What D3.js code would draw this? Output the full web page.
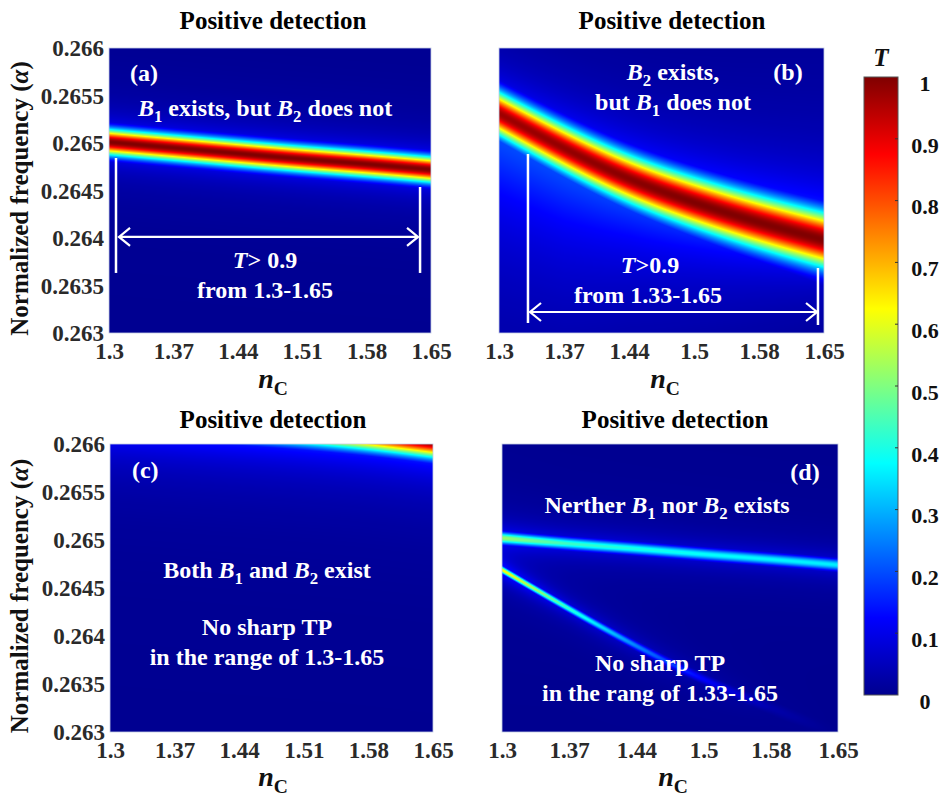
<!DOCTYPE html>
<html>
<head>
<meta charset="utf-8">
<title></title>
<script src="https://cdn.jsdelivr.net/npm/d3@7"></script>
<style>
body{margin:0;background:#fff;}
svg{display:block;font-family:"Liberation Serif","Times New Roman",serif;font-weight:bold;}
</style>
<script>
// axis ticks
var nTicks = [1.3, 1.37, 1.44, 1.51, 1.58, 1.65];
var nLabelsAC = ['1.3', '1.37', '1.44', '1.51', '1.58', '1.65'];
var nLabelsBD = ['1.3', '1.37', '1.44', '1.5', '1.58', '1.65'];
var fTicks = [0.263, 0.2635, 0.264, 0.2645, 0.265, 0.2655, 0.266];
var fLabels = ['0.263', '0.2635', '0.264', '0.2645', '0.265', '0.2655', '0.266'];
var tTicks = [0, 0.1, 0.2, 0.3, 0.4, 0.5, 0.6, 0.7, 0.8, 0.9, 1];
var tLabels = ['0', '0.1', '0.2', '0.3', '0.4', '0.5', '0.6', '0.7', '0.8', '0.9', '1'];

// transmission ridges, read at nTicks: centre frequency, peak T, width,
// halo spread above / below the ridge (frequency units)
var aCenter = [0.26501, 0.26495, 0.26489, 0.26483, 0.26478, 0.26472];
var aPeak   = [1, 1, 1, 1, 1, 1];
var aWidth  = [0.000135, 0.000135, 0.000135, 0.000135, 0.000135, 0.000135];
var aUp     = [0.00017, 0.00017, 0.00017, 0.00017, 0.00017, 0.00017];
var aDown   = [0.00017, 0.00017, 0.00017, 0.00017, 0.00017, 0.00017];

var bCenter = [0.26531, 0.26494, 0.26461, 0.26437, 0.26416, 0.26398];
var bPeak   = [0.97, 0.98, 0.99, 1, 1, 1];
var bWidth  = [0.00023, 0.000242, 0.000254, 0.000266, 0.000278, 0.00029];
var bUp     = [0.0003, 0.00034, 0.00038, 0.00042, 0.00047, 0.00052];
var bDown   = [0.001, 0.0009, 0.0007, 0.00055, 0.00042, 0.0003];

var cCenter = [0.26632, 0.26627, 0.26622, 0.26617, 0.26611, 0.266025];
var cPeak   = [1, 1, 1, 1, 1, 1];
var cWidth  = [0.000165, 0.000165, 0.000165, 0.000165, 0.000165, 0.000165];
var cUp     = [0.0003, 0.0003, 0.0003, 0.0003, 0.0003, 0.0003];
var cDown   = [0.0003, 0.0003, 0.0003, 0.0003, 0.0003, 0.0003];

var d1Center = [0.26502, 0.26496, 0.26491, 0.26485, 0.26480, 0.26474];
var d1Peak   = [0.52, 0.43, 0.4, 0.38, 0.37, 0.36];
var d1Width  = [0.00006, 0.00006, 0.00006, 0.00006, 0.00006, 0.00006];
var d1Up     = [0.00014, 0.00014, 0.00014, 0.00014, 0.00014, 0.00014];
var d1Down   = [0.00014, 0.00014, 0.00014, 0.00014, 0.00014, 0.00014];

var d2Center = [0.26469, 0.26428, 0.26389, 0.26354, 0.26325, 0.26298];
var d2Peak   = [0.63, 0.42, 0.25, 0.12, 0.03, 0];
var d2Width  = [0.000035, 0.00004, 0.000045, 0.00005, 0.00006, 0.00007];
var d2Up     = [0.0001, 0.0001, 0.00012, 0.00014, 0.00016, 0.00018];
var d2Down   = [0.0001, 0.0001, 0.00012, 0.00014, 0.00016, 0.00018];

var HALO = 0.22;

window.onload = function () {
  var svg = d3.select('#chart');

  // MATLAB-like jet colour map
  var jet = d3.scaleLinear()
    .domain([0, 0.125, 0.375, 0.625, 0.875, 1])
    .range(['#00008f', '#0000ff', '#00ffff', '#ffff00', '#ff0000', '#800000'])
    .clamp(true);
  var lut = d3.range(1025).map(function (i) { return d3.rgb(jet(i / 1024)); });

  var nPos = d3.scaleLinear().domain([1.3, 1.65]).range([0, 1]).clamp(true);
  function ridge(c, p, w, up, down) {
    var s = function (arr) { return d3.scaleLinear().domain(nTicks).range(arr).clamp(true); };
    var cb = d3.interpolateBasis(c);
    return {c: function (n) { return cb(nPos(n)); }, p: s(p), w: s(w), up: s(up), down: s(down)};
  }

  function field(ridges, n, f) {
    var rest = 1;
    ridges.forEach(function (r) {
      var d = f - r.c(n), w = r.w(n), p = r.p(n);
      var core = p * Math.exp(-(d / w) * (d / w));
      var s = d > 0 ? r.up(n) : r.down(n);
      var halo = HALO * p / (1 + (d / s) * (d / s));
      rest *= 1 - Math.max(core, halo);
    });
    return Math.max(0, Math.min(1, 1 - rest));
  }

  var panels = [
    {x0: 109, x1: 431, y0: 48, y1: 333, labels: nLabelsAC, yAxis: true,
     title: [273, 29], xlab: [273, 388],
     ridges: [ridge(aCenter, aPeak, aWidth, aUp, aDown)]},
    {x0: 499, x1: 824, y0: 48, y1: 333, labels: nLabelsBD, yAxis: false,
     title: [672, 29], xlab: [665, 388],
     ridges: [ridge(bCenter, bPeak, bWidth, bUp, bDown)]},
    {x0: 110, x1: 433, y0: 444, y1: 732, labels: nLabelsAC, yAxis: true,
     title: [273, 428], xlab: [273, 786],
     ridges: [ridge(cCenter, cPeak, cWidth, cUp, cDown)]},
    {x0: 502, x1: 838, y0: 444, y1: 732, labels: nLabelsBD, yAxis: false,
     title: [675, 428], xlab: [673, 786],
     ridges: [ridge(d1Center, d1Peak, d1Width, d1Up, d1Down),
              ridge(d2Center, d2Peak, d2Width, d2Up, d2Down)]}
  ];

  // text with italic / subscript parts
  function rich(sel, parts) {
    var shift = 0;
    parts.forEach(function (p) {
      var st = p[1] || '';
      var t = sel.append('tspan').text(p[0]);
      var isSub = st.indexOf('sub') >= 0;
      var want = isSub ? 0.25 : 0;
      if (want !== shift) {
        t.attr('dy', ((want - shift) * (isSub ? 1 / 0.7 : 1)) + 'em');
        shift = want;
      }
      if (st.indexOf('it') >= 0) t.attr('font-style', 'italic');
      if (isSub) t.attr('font-size', '0.7em');
    });
    return sel;
  }

  panels.forEach(function (p) {
    var x = d3.scaleLinear().domain([1.3, 1.65]).range([p.x0, p.x1]);
    var y = d3.scaleLinear().domain([0.263, 0.266]).range([p.y1, p.y0]);
    p.x = x; p.y = y;

    // heat map
    var w = p.x1 - p.x0, h = p.y1 - p.y0;
    var cv = document.createElement('canvas');
    cv.width = w; cv.height = h;
    var ctx = cv.getContext('2d');
    var img = ctx.createImageData(w, h);
    for (var j = 0; j < h; j++) {
      var f = y.invert(p.y0 + j + 0.5);
      for (var i = 0; i < w; i++) {
        var n = x.invert(p.x0 + i + 0.5);
        var c = lut[Math.round(field(p.ridges, n, f) * 1024)];
        var k = (j * w + i) * 4;
        img.data[k] = c.r; img.data[k + 1] = c.g; img.data[k + 2] = c.b; img.data[k + 3] = 255;
      }
    }
    ctx.putImageData(img, 0, 0);
    svg.append('image')
      .attr('x', p.x0).attr('y', p.y0)
      .attr('width', w).attr('height', h)
      .attr('preserveAspectRatio', 'none')
      .attr('href', cv.toDataURL());
    svg.append('rect')
      .attr('x', p.x0).attr('y', p.y0)
      .attr('width', w).attr('height', h)
      .attr('fill', 'none').attr('stroke', '#c4cce4').attr('stroke-width', 0.8);

    // x axis
    var xa = svg.append('g')
      .attr('transform', 'translate(0,' + (p.y1 + 9) + ')')
      .call(d3.axisBottom(x).tickValues(nTicks).tickSize(0).tickPadding(0)
        .tickFormat(function (d, i) { return p.labels[i]; }));
    xa.attr('font-family', null).attr('font-size', null);
    xa.select('.domain').remove();
    xa.selectAll('text').attr('font-size', 23).attr('fill', '#2a2a2a').attr('dy', '0.72em');

    // y axis
    if (p.yAxis) {
      var ya = svg.append('g')
        .attr('transform', 'translate(' + (p.x0 - 5) + ',0)')
        .call(d3.axisLeft(y).tickValues(fTicks).tickSize(0).tickPadding(0)
          .tickFormat(function (d, i) { return fLabels[i]; }));
      ya.attr('font-family', null).attr('font-size', null);
      ya.select('.domain').remove();
      ya.selectAll('text').attr('font-size', 23).attr('fill', '#2a2a2a').attr('dy', '0.34em');

      rich(svg.append('text')
        .attr('transform', 'translate(28,' + ((p.y0 + p.y1) / 2 + 8) + ') rotate(-90)')
        .attr('text-anchor', 'middle').attr('font-size', 25).attr('fill', '#111'),
        [['Normalized frequency ('], ['α', 'it'], [')']]);
    }

    svg.append('text')
      .attr('x', p.title[0]).attr('y', p.title[1])
      .attr('text-anchor', 'middle').attr('font-size', 25).attr('fill', '#000')
      .text('Positive detection');

    rich(svg.append('text')
      .attr('x', p.xlab[0]).attr('y', p.xlab[1])
      .attr('text-anchor', 'middle').attr('font-size', 28).attr('fill', '#111'),
      [['n', 'it'], ['C', 'sub']]);
  });

  // annotations (data coordinates of each panel)
  function note(p, n, f, parts, anchor, size) {
    rich(svg.append('text')
      .attr('x', p.x(n)).attr('y', p.y(f))
      .attr('dy', '0.35em')
      .attr('text-anchor', anchor || 'middle')
      .attr('font-size', size || 24).attr('fill', '#fff'),
      parts);
  }
  function vline(p, n, f0, f1) {
    svg.append('line')
      .attr('x1', p.x(n)).attr('x2', p.x(n))
      .attr('y1', p.y(f0)).attr('y2', p.y(f1))
      .attr('stroke', '#fff').attr('stroke-width', 2.5);
  }
  function arrow(p, n0, n1, f) {
    var xa = p.x(n0), xb = p.x(n1), yy = p.y(f);
    svg.append('path')
      .attr('d', 'M' + xa + ',' + yy + 'H' + xb +
        'M' + (xa + 11) + ',' + (yy - 9) + 'L' + xa + ',' + yy + 'L' + (xa + 11) + ',' + (yy + 9) +
        'M' + (xb - 11) + ',' + (yy - 9) + 'L' + xb + ',' + yy + 'L' + (xb - 11) + ',' + (yy + 9))
      .attr('fill', 'none').attr('stroke', '#fff').attr('stroke-width', 2.2);
  }

  var pa = panels[0], pb = panels[1], pc = panels[2], pd = panels[3];

  note(pa, 1.3228, 0.265737, [['(a)']], 'start');
  note(pa, 1.4696, 0.265368, [['B', 'it'], ['1', 'sub'], [' exists, but '], ['B', 'it'], ['2', 'sub'], [' does not']]);
  vline(pa, 1.3076, 0.264842, 0.263632);
  vline(pa, 1.6381, 0.264537, 0.263632);
  arrow(pa, 1.3109, 1.6359, 0.264011);
  note(pa, 1.4696, 0.263768, [['T', 'it'], ['> 0.9']]);
  note(pa, 1.4696, 0.263453, [['from 1.3-1.65']]);

  note(pb, 1.6112, 0.265747, [['(b)']]);
  note(pb, 1.4874, 0.265747, [['B', 'it'], ['2', 'sub'], [' exists,']]);
  note(pb, 1.4874, 0.265432, [['but '], ['B', 'it'], ['1', 'sub'], [' does not']]);
  vline(pb, 1.3312, 0.264884, 0.263105);
  vline(pb, 1.6435, 0.263684, 0.263084);
  arrow(pb, 1.3334, 1.6425, 0.263221);
  note(pb, 1.4626, 0.263716, [['T', 'it'], ['>0.9']]);
  note(pb, 1.4605, 0.263400, [['from 1.33-1.65']]);

  note(pc, 1.3238, 0.265729, [['(c)']], 'start');
  note(pc, 1.4701, 0.264688, [['Both '], ['B', 'it'], ['1', 'sub'], [' and '], ['B', 'it'], ['2', 'sub'], [' exist']]);
  note(pc, 1.4701, 0.264094, [['No sharp TP']]);
  note(pc, 1.4701, 0.263781, [['in the range of 1.3-1.65']]);

  note(pd, 1.6156, 0.265708, [['(d)']]);
  note(pd, 1.4719, 0.265365, [['Nerther '], ['B', 'it'], ['1', 'sub'], [' nor '], ['B', 'it'], ['2', 'sub'], [' exists']]);
  note(pd, 1.4646, 0.263719, [['No sharp TP']]);
  note(pd, 1.4646, 0.263406, [['in the rang of 1.33-1.65']]);

  // colour bar
  var cs = d3.scaleLinear().domain([0, 1]).range([695, 77]);
  var grad = svg.append('defs').append('linearGradient')
    .attr('id', 'jetgrad').attr('x1', 0).attr('y1', 1).attr('x2', 0).attr('y2', 0);
  grad.selectAll('stop').data(d3.range(0, 1.0001, 0.025)).enter().append('stop')
    .attr('offset', function (d) { return d; })
    .attr('stop-color', function (d) { return jet(d); });
  svg.append('rect')
    .attr('x', 864).attr('y', cs(1)).attr('width', 34).attr('height', cs(0) - cs(1))
    .attr('fill', 'url(#jetgrad)').attr('stroke', '#555').attr('stroke-width', 1);
  svg.selectAll('.cbtick').data(tTicks.slice(1, -1)).enter().append('line')
    .attr('x1', 895).attr('x2', 898)
    .attr('y1', function (d) { return cs(d); }).attr('y2', function (d) { return cs(d); })
    .attr('stroke', '#333').attr('stroke-width', 1);
  svg.selectAll('.cblab').data(tTicks).enter().append('text')
    .attr('x', 925).attr('y', function (d) { return cs(d) + 6; })
    .attr('dy', '0.35em').attr('text-anchor', 'middle')
    .attr('font-size', 22).attr('fill', '#111')
    .text(function (d, i) { return tLabels[i]; });
  svg.append('text')
    .attr('x', 881).attr('y', 66).attr('text-anchor', 'middle')
    .attr('font-size', 25).attr('font-style', 'italic').attr('fill', '#111')
    .text('T');
};
</script>
</head>
<body>
<svg id="chart" width="945" height="797"></svg>
</body>
</html>
